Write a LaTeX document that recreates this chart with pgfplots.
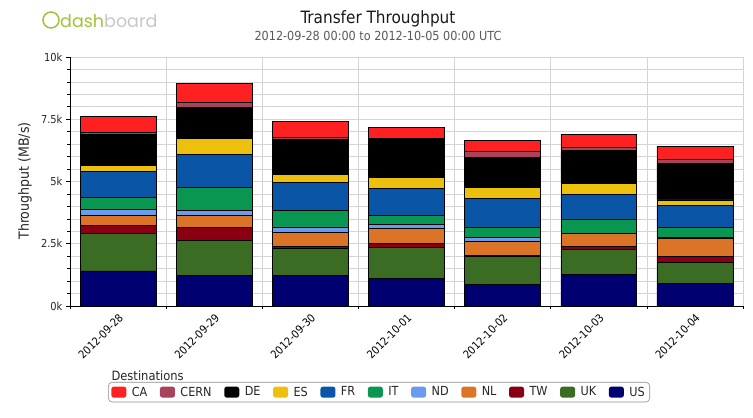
\documentclass[border=0pt]{standalone}
\usepackage{fontspec}
\setmainfont{DejaVu Sans Condensed}
\newfontfamily\logofont{Poppins}
\usepackage{pgfplots}
\pgfplotsset{compat=1.18}
\usepackage{pgfplotstable}

\definecolor{cCA}{HTML}{FF2121}
\definecolor{cCERN}{HTML}{A8435A}
\definecolor{cDE}{HTML}{000000}
\definecolor{cES}{HTML}{EEC00E}
\definecolor{cFR}{HTML}{0B55A6}
\definecolor{cIT}{HTML}{099650}
\definecolor{cND}{HTML}{6B9BEE}
\definecolor{cNL}{HTML}{DC7428}
\definecolor{cTW}{HTML}{8A0012}
\definecolor{cUK}{HTML}{3A6D23}
\definecolor{cUS}{HTML}{000070}
\definecolor{logogreen}{HTML}{9CC43C}
\definecolor{gridc}{HTML}{D4D4D4}

\pgfplotstableread{
x US UK TW NL ND IT FR ES DE CERN CA
0 1.41 1.51 0.32 0.40 0.24 0.49 1.05 0.24 1.24 0.06 0.67
1 1.245 1.39 0.52 0.48 0.20 0.92 1.34 0.65 1.24 0.18 0.79
2 1.245 1.08 0.08 0.56 0.21 0.66 1.12 0.33 1.42 0.06 0.64
3 1.11 1.245 0.16 0.60 0.16 0.36 1.08 0.45 1.57 0.02 0.43
4 0.88 1.10 0.04 0.58 0.17 0.41 1.14 0.45 1.20 0.23 0.44
5 1.285 0.98 0.14 0.52 0.00 0.57 0.99 0.45 1.30 0.14 0.52
6 0.92 0.83 0.24 0.71 0.07 0.39 0.87 0.23 1.47 0.18 0.50
}\datatable

\pgfplotsset{
  sq/.style={fill=#1, draw=black, line width=0.6pt,
    legend image code/.code={\fill[##1, draw=none, rounded corners=2.5pt] (0pt,-5.5pt) rectangle (15pt,5.5pt);}},
}

\begin{document}
\begin{tikzpicture}
\useasboundingbox (0,0) rectangle (753pt,418pt);
\begin{axis}[
  at={(70pt,112pt)}, anchor=south west,
  scale only axis, width=673pt, height=249pt,
  ybar stacked, bar width=0.79,
  xmin=-0.5, xmax=6.5, ymin=0, ymax=10,
  xtick={0,...,6},
  xticklabels={2012-09-28,2012-09-29,2012-09-30,2012-10-01,2012-10-02,2012-10-03,2012-10-04},
  major x tick style={draw=none},
  minor xtick={-0.5,0.5,...,6.5},
  xminorgrids=true,
  ytick={0,2.5,5,7.5,10},
  yticklabels={0k,2.5k,5k,7.5k,10k},
  minor ytick={0.5,1,1.5,2,3,3.5,4,4.5,5.5,6,6.5,7,8,8.5,9,9.5},
  ymajorgrids=true, yminorgrids=true,
  grid style={draw=gridc, line width=0.6pt},
  minor grid style={draw=gridc, line width=0.6pt},
  major grid style={draw=gridc, line width=0.6pt},
  axis x line*=bottom, axis y line*=left,
  axis line style={black, -, line width=0.7pt},
  tick align=outside,
  major tick length=4pt, minor tick length=3pt,
  tick style={black, line width=0.6pt},
  xticklabel style={rotate=45, anchor=north east, font=\fontsize{11}{13}\selectfont, inner sep=1pt, yshift=-1pt, xshift=-1pt},
  yticklabel style={font=\fontsize{11}{13}\selectfont, text=black!85},
  legend columns=11,
  reverse legend,
  legend style={at={(0.0565,-0.305)}, anchor=north west,
    draw=black!45, rounded corners=4pt, line width=0.6pt,
    font=\fontsize{12.5}{14}\selectfont, text=black!85,
    inner xsep=3pt, inner ysep=2.5pt,
    nodes={inner sep=2pt},
    /tikz/every odd column/.append style={column sep=3.5pt},
    /tikz/every even column/.append style={column sep=10.6pt}},
  legend cell align=left,
]
\addplot[sq=cUS] table[x=x, y=US] {\datatable};
\addlegendentry{US}
\addplot[sq=cUK] table[x=x, y=UK] {\datatable};
\addlegendentry{UK}
\addplot[sq=cTW] table[x=x, y=TW] {\datatable};
\addlegendentry{TW}
\addplot[sq=cNL] table[x=x, y=NL] {\datatable};
\addlegendentry{NL}
\addplot[sq=cND] table[x=x, y=ND] {\datatable};
\addlegendentry{ND}
\addplot[sq=cIT] table[x=x, y=IT] {\datatable};
\addlegendentry{IT}
\addplot[sq=cFR] table[x=x, y=FR] {\datatable};
\addlegendentry{FR}
\addplot[sq=cES] table[x=x, y=ES] {\datatable};
\addlegendentry{ES}
\addplot[sq=cDE] table[x=x, y=DE] {\datatable};
\addlegendentry{DE}
\addplot[sq=cCERN] table[x=x, y=CERN] {\datatable};
\addlegendentry{CERN}
\addplot[sq=cCA] table[x=x, y=CA] {\datatable};
\addlegendentry{CA}
\end{axis}
% titles
\node[font=\fontsize{17}{19}\selectfont, text=black!90] at (378pt,399pt) {Transfer Throughput};
\node[font=\fontsize{12.5}{14}\selectfont, text=black!65] at (378pt,382pt) {2012-09-28 00:00 to 2012-10-05 00:00 UTC};
\node[rotate=90, font=\fontsize{14}{16}\selectfont, text=black!85] at (25pt,237pt) {Throughput (MB/s)};
\node[anchor=west, font=\fontsize{12.8}{14}\selectfont, text=black!85] at (108pt,42pt) {Destinations};
% logo
\draw[logogreen, line width=1.5pt] (51pt,398pt) circle (8pt);
\node[anchor=west, inner sep=0pt, font=\logofont\fontsize{17.5}{20}\selectfont] at (60pt,397pt) {\textcolor{logogreen}{dash}\textcolor{black!22}{board}};
\end{tikzpicture}
\end{document}
